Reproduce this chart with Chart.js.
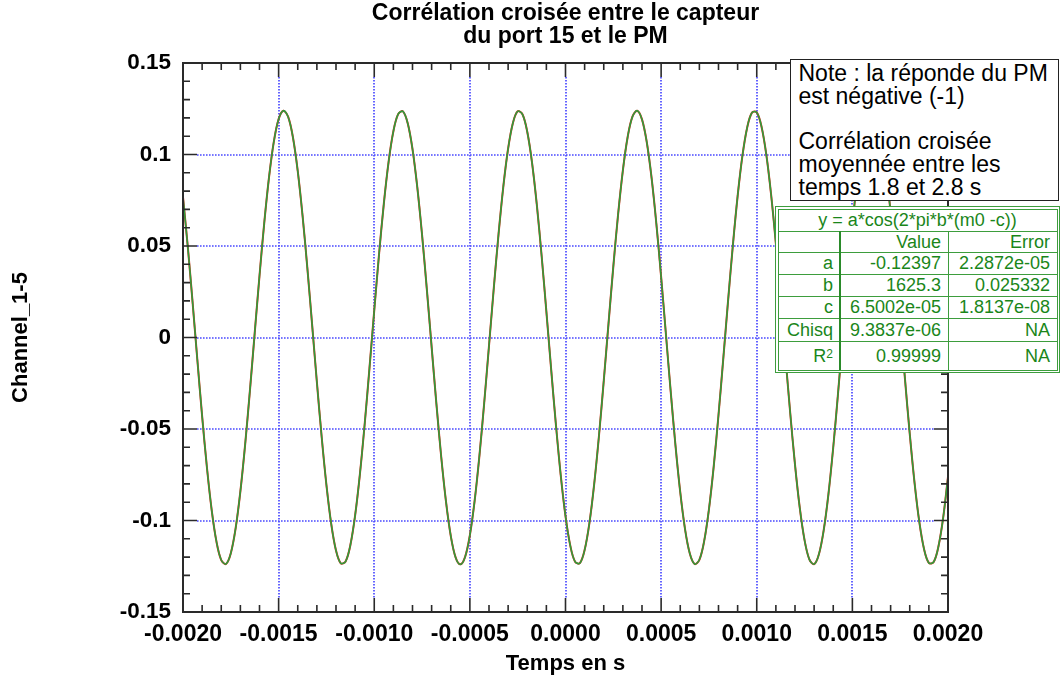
<!DOCTYPE html>
<html>
<head>
<meta charset="utf-8">
<script src="https://cdn.jsdelivr.net/npm/chart.js@4.4.1/dist/chart.umd.min.js"></script>
<style>
  html, body { margin: 0; padding: 0; background: #fff; }
  #wrap { position: relative; width: 1062px; height: 679px; overflow: hidden;
          font-family: "Liberation Sans", Arial, Helvetica, sans-serif; }
  #c { position: absolute; left: 0; top: 0; }
  #title { position: absolute; left: 0; top: 1px; width: 1131px; text-align: center;
           font-weight: bold; font-size: 23px; line-height: 23px; color: #000; }
  #note { position: absolute; left: 790px; top: 59px; width: 269px; height: 142px;
          box-sizing: border-box; border: 1.5px solid #222; background: #fff;
          padding: 2px 0 0 7.5px; font-size: 23px; line-height: 22.7px; color: #000;
          white-space: nowrap; }
  #fit { position: absolute; left: 0; top: 0; width: 0; height: 0; }
  .fl { position: absolute; background: #3d9d3d; }
  .fc { position: absolute; color: #1a861a; font-size: 18px; line-height: 18px;
        white-space: nowrap; display: flex; align-items: center; }
  .fc sup { font-size: 12px; line-height: 0; position: relative; top: -2px; }
</style>
</head>
<body>
<div id="wrap">
  <canvas id="c" width="1062" height="679"></canvas>
  <div id="title">Corrélation croisée entre le capteur<br>du port 15 et le PM</div>
  <div id="note">Note : la réponde du PM<br>est négative (-1)<br>&nbsp;<br>Corrélation croisée<br>moyennée entre les<br>temps 1.8 et 2.8 s</div>
  <div id="fit"></div>
</div>
<script>
// Cross-correlation samples (Channel_1-5), every 25 µs from -2 ms to +2 ms
const T0 = -0.002;
const DT = 0.000025;
const correlationValues = [
  0.07675, 0.04968, 0.01938, -0.01217, -0.04293, -0.07091, -0.09429, -0.11156, -0.12160, -0.12375,
  -0.11789, -0.10438, -0.08410, -0.05838, -0.02887, 0.00251, 0.03373, 0.06276, 0.08773, 0.10701,
  0.11934, 0.12395, 0.12052, 0.10928, 0.09095, 0.06673, 0.03818, 0.00716, -0.02433, -0.05424,
  -0.08063, -0.10180, -0.11637, -0.12339, -0.12242, -0.11351, -0.09724, -0.07467, -0.04726, -0.01678,
  0.01478, 0.04538, 0.07305, 0.09597, 0.11268, 0.12208, 0.12357, 0.11705, 0.10294, 0.08216,
  0.05605, 0.02631, -0.00514, -0.03625, -0.06501, -0.08956, -0.10831, -0.12003, -0.12397, -0.11988,
  -0.10801, -0.08914, -0.06450, -0.03567, -0.00453, 0.02690, 0.05659, 0.08261, 0.10327, 0.11725,
  0.12362, 0.12197, 0.11243, 0.09559, 0.07256, 0.04482, 0.01418, -0.01738, -0.04782, -0.07515,
  -0.09761, -0.11375, -0.12251, -0.12333, -0.11615, -0.10145, -0.08017, -0.05369, -0.02374, 0.00776,
  0.03876, 0.06724, 0.09136, 0.10956, 0.12066, 0.12394, 0.11918, 0.10670, 0.08730, 0.06224,
  0.03315, 0.00191, -0.02946, -0.05891, -0.08455, -0.10470, -0.11807, -0.12379, -0.12148, -0.11129,
  -0.09390, -0.07041, -0.04236, -0.01157, 0.01998, 0.05023, 0.07722, 0.09921, 0.11477, 0.12288,
  0.12304, 0.11521, 0.09992, 0.07815, 0.05131, 0.02115, -0.01038, -0.04124, -0.06943, -0.09311,
  -0.11076, -0.12123, -0.12385, -0.11843, -0.10534, -0.08541, -0.05996, -0.03061, 0.00072, 0.03200,
  0.06121, 0.08645, 0.10609, 0.11885, 0.12390, 0.12093, 0.11011, 0.09216, 0.06823, 0.03988,
  0.00895, -0.02257, -0.05262, -0.07926, -0.10076, -0.11573, -0.12320, -0.12269, -0.11422, -0.09834,
  -0.07609
];

// Axis ticks
const xTickValues = [-0.002, -0.0015, -0.001, -0.0005, 0, 0.0005, 0.001, 0.0015, 0.002];
const xTickLabels = ['-0.0020', '-0.0015', '-0.0010', '-0.0005', '0.0000', '0.0005', '0.0010', '0.0015', '0.0020'];
const yTickValues = [-0.15, -0.1, -0.05, 0, 0.05, 0.1, 0.15];
const yTickLabels = ['-0.15', '-0.1', '-0.05', '0', '0.05', '0.1', '0.15'];

// Curve-fit results table
const fitFormula = 'y = a*cos(2*pi*b*(m0 -c))';
const fitColumns = ['', 'Value', 'Error'];
const fitParams = ['a', 'b', 'c', 'Chisq', 'R<sup>2</sup>'];
const fitValues = ['-0.12397', '1625.3', '6.5002e-05', '9.3837e-06', '0.99999'];
const fitErrors = ['2.2872e-05', '0.025332', '1.8137e-08', 'NA', 'NA'];

const FONT = '"Liberation Sans", Arial, Helvetica, sans-serif';

const points = correlationValues.map((v, i) => ({ x: T0 + i * DT, y: v }));

// Boxed plot frame with inward major/minor ticks on all four sides and dotted blue grid
const frameTicks = {
  id: 'frameTicks',
  beforeDatasetsDraw(chart) {
    const { ctx, chartArea: a, scales: { x, y } } = chart;
    const major = 14;
    ctx.save();
    ctx.lineWidth = 1.7;
    ctx.strokeStyle = '#4a4aff';
    ctx.setLineDash([1.6, 1.4]);
    xTickValues.slice(1, -1).forEach(v => {
      const px = Math.round(x.getPixelForValue(v));
      ctx.beginPath(); ctx.moveTo(px, a.top + major); ctx.lineTo(px, a.bottom - major); ctx.stroke();
    });
    yTickValues.slice(1, -1).forEach(v => {
      const py = Math.round(y.getPixelForValue(v));
      ctx.beginPath(); ctx.moveTo(a.left + major, py); ctx.lineTo(a.right - major, py); ctx.stroke();
    });
    ctx.restore();
  },
  afterDatasetsDraw(chart) {
    const { ctx, chartArea: a, scales: { x, y } } = chart;
    const major = 14, minor = 7;
    ctx.save();
    ctx.strokeStyle = '#2a2a2a';
    ctx.lineWidth = 2;
    ctx.strokeRect(a.left, a.top, a.right - a.left, a.bottom - a.top);
    ctx.lineWidth = 1.6;
    for (let i = 1; i < 40; i++) {
      const len = i % 5 === 0 ? major : minor;
      const px = x.getPixelForValue(-0.002 + i * 0.0001);
      ctx.beginPath();
      ctx.moveTo(px, a.bottom); ctx.lineTo(px, a.bottom - len);
      ctx.moveTo(px, a.top); ctx.lineTo(px, a.top + len);
      ctx.stroke();
    }
    for (let i = 1; i < 30; i++) {
      const len = i % 5 === 0 ? major : minor;
      const py = y.getPixelForValue(-0.15 + i * 0.01);
      ctx.beginPath();
      ctx.moveTo(a.left, py); ctx.lineTo(a.left + len, py);
      ctx.moveTo(a.right, py); ctx.lineTo(a.right - len, py);
      ctx.stroke();
    }
    ctx.restore();
  }
};

new Chart(document.getElementById('c'), {
  type: 'line',
  data: {
    datasets: [
      { label: 'fit', data: points, borderColor: '#2f9c3c', borderWidth: 1.6,
        pointRadius: 0, tension: 0.35, order: 0 },
      { label: 'Channel_1-5', data: points, borderColor: '#e2291e', borderWidth: 2.0,
        pointRadius: 0, tension: 0.35, order: 1 }
    ]
  },
  options: {
    responsive: false,
    animation: false,
    events: [],
    layout: { padding: { left: 0, top: 63, right: 114, bottom: 0 } },
    plugins: { legend: { display: false }, tooltip: { enabled: false }, title: { display: false } },
    scales: {
      x: {
        type: 'linear', min: -0.002, max: 0.002,
        grid: { display: false }, border: { display: false },
        afterBuildTicks: s => { s.ticks = xTickValues.map(v => ({ value: v })); },
        afterFit: s => { s.height = 67; },
        ticks: { callback: (v, i) => xTickLabels[i], autoSkip: false, maxRotation: 0,
                 color: '#000', padding: 1, font: { family: FONT, size: 23, weight: 'bold' } },
        title: { display: true, text: 'Temps en s', color: '#000', padding: { top: 0, bottom: 2 },
                 font: { family: FONT, size: 22, weight: 'bold' } }
      },
      y: {
        type: 'linear', min: -0.15, max: 0.15,
        grid: { display: false }, border: { display: false },
        afterBuildTicks: s => { s.ticks = yTickValues.map(v => ({ value: v })); },
        afterFit: s => { s.width = 183; },
        ticks: { callback: (v, i) => yTickLabels[i], autoSkip: false,
                 color: '#000', padding: 4, font: { family: FONT, size: 22.5, weight: 'bold' } },
        title: { display: true, text: 'Channel_1-5', color: '#000', padding: { top: 8, bottom: 0 },
                 font: { family: FONT, size: 22, weight: 'bold' } }
      }
    }
  },
  plugins: [frameTicks]
});

// Fit results table (double green border, grid of cells)
(function buildFitTable() {
  const host = document.getElementById('fit');
  const rowEdges = [209, 231, 252, 274, 296, 318, 341, 370];
  const colEdges = [778, 840, 948, 1057];
  const add = (cls, css, html) => {
    const d = document.createElement('div');
    d.className = cls;
    Object.assign(d.style, css);
    if (html !== undefined) d.innerHTML = html;
    host.appendChild(d);
    return d;
  };
  // white background + outer double frame
  add('', { position: 'absolute', left: '775px', top: '206px', width: '285px', height: '167px',
            background: '#fff', boxSizing: 'border-box', border: '1px solid #3d9d3d' });
  add('', { position: 'absolute', left: '777.5px', top: '208.5px', width: '280px', height: '162px',
            boxSizing: 'border-box', border: '1px solid #3d9d3d' });
  const L = colEdges[0], R = colEdges[3], T = rowEdges[0], B = rowEdges[rowEdges.length - 1];
  // horizontal separators
  rowEdges.slice(1, -1).forEach(yy => add('fl', { left: L + 'px', top: yy + 'px', width: (R - L) + 'px', height: '1px' }));
  // vertical separators (the first one heavier)
  add('fl', { left: (colEdges[1] - 1) + 'px', top: rowEdges[1] + 'px', width: '2px', height: (B - rowEdges[1]) + 'px', background: '#2a8a2a' });
  add('fl', { left: colEdges[2] + 'px', top: rowEdges[1] + 'px', width: '1px', height: (B - rowEdges[1]) + 'px' });
  // formula row
  add('fc', { left: L + 'px', top: T + 'px', width: (R - L) + 'px', height: (rowEdges[1] - T) + 'px', justifyContent: 'center' }, fitFormula);
  const cell = (r, c, html) => {
    add('fc', { left: colEdges[c] + 'px', top: rowEdges[r] + 'px',
                width: (colEdges[c + 1] - colEdges[c] - 7) + 'px',
                height: (rowEdges[r + 1] - rowEdges[r]) + 'px', justifyContent: 'flex-end' }, html);
  };
  fitColumns.forEach((h, c) => cell(1, c, h));
  fitParams.forEach((p, i) => {
    cell(i + 2, 0, p);
    cell(i + 2, 1, fitValues[i]);
    cell(i + 2, 2, fitErrors[i]);
  });
})();
</script>
</body>
</html>
